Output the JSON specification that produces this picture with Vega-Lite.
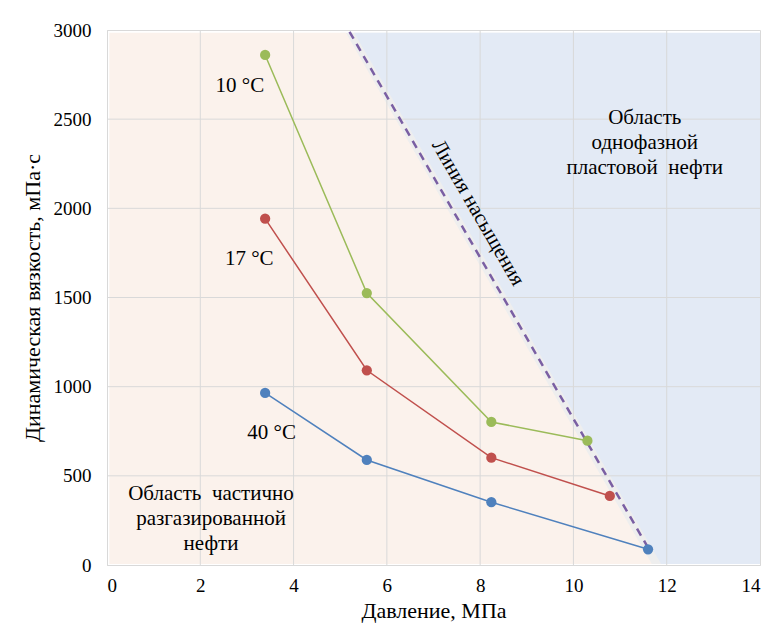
{
  "$schema": "https://vega.github.io/schema/vega-lite/v6.json",
  "width": 653,
  "height": 535,
  "autosize": {"type": "none"},
  "padding": {"left": 107, "top": 30, "right": 23, "bottom": 70},
  "background": "white",
  "config": {
    "font": "Liberation Serif",
    "text": {"font": "Liberation Serif"},
    "view": {"stroke": "#D9D9D9", "strokeWidth": 1},
    "axis": {
      "gridColor": "#D9D9D9",
      "domainColor": "#D9D9D9",
      "ticks": false,
      "labelFont": "Liberation Serif",
      "labelFontSize": 19,
      "labelColor": "#000000",
      "titleFont": "Liberation Serif",
      "titleFontSize": 22,
      "titleFontWeight": "normal",
      "titleColor": "#000000"
    }
  },
  "datasets": {
    "series": [
      {"t": "10 °C", "p": 3.39, "v": 2860},
      {"t": "10 °C", "p": 5.57, "v": 1525},
      {"t": "10 °C", "p": 8.24, "v": 802},
      {"t": "10 °C", "p": 10.3, "v": 697},
      {"t": "17 °C", "p": 3.39, "v": 1942},
      {"t": "17 °C", "p": 5.57, "v": 1092},
      {"t": "17 °C", "p": 8.24, "v": 602},
      {"t": "17 °C", "p": 10.78, "v": 387},
      {"t": "40 °C", "p": 3.39, "v": 965},
      {"t": "40 °C", "p": 5.57, "v": 589},
      {"t": "40 °C", "p": 8.24, "v": 352},
      {"t": "40 °C", "p": 11.6, "v": 88}
    ],
    "pink": [
      {"p": 0.05, "v": 2985},
      {"p": 5.12, "v": 2985},
      {"p": 11.68, "v": 5}
    ],
    "blue": [
      {"p": 5.3, "v": 2985, "v2": 2985},
      {"p": 11.88, "v": 2985, "v2": 5},
      {"p": 14, "v": 2985, "v2": 5}
    ],
    "band": [
      {"p": 5.0, "v": 2985},
      {"p": 12.0, "v": 2985}
    ],
    "gridx": [{"p": 2}, {"p": 4}, {"p": 6}, {"p": 8}, {"p": 10}, {"p": 12}],
    "gridy": [{"v": 500}, {"v": 1000}, {"v": 1500}, {"v": 2000}, {"v": 2500}],
    "sat": [
      {"p": 5.2, "v": 2990},
      {"p": 11.62, "v": 88}
    ],
    "labels": [
      {"p": 2.85, "v": 2686, "txt": "10 °C"},
      {"p": 3.05, "v": 1716, "txt": "17 °C"},
      {"p": 3.53, "v": 740, "txt": "40 °C"}
    ],
    "regions": [
      {"p": 2.23, "v": 458, "txt": "Область \u00a0частично\nразгазированной\nнефти"},
      {"p": 11.53, "v": 2566, "txt": "Область\nоднофазной\nпластовой \u00a0нефти"}
    ],
    "satlabel": [
      {"p": 7.95, "v": 1974, "txt": "Линия насыщения"}
    ]
  },
  "layer": [
    {
      "data": {"name": "band"},
      "mark": {"type": "area", "color": "#EEEEEE"},
      "encoding": {
        "x": {"field": "p", "type": "quantitative", "scale": {"domain": [0, 14]}, "axis": {"values": [0, 2, 4, 6, 8, 10, 12, 14], "format": "d", "title": "Давление, МПа", "labelPadding": 11, "titlePadding": 5, "grid": false}},
        "y": {"field": "v", "type": "quantitative", "scale": {"domain": [0, 3000]}, "axis": {"values": [0, 500, 1000, 1500, 2000, 2500, 3000], "format": "d", "title": "Динамическая вязкость, мПа·с", "labelPadding": 16, "titlePadding": 9, "grid": false}},
        "y2": {"datum": 5}
      }
    },
    {
      "data": {"name": "pink"},
      "mark": {"type": "area", "color": "#FBF2EC"},
      "encoding": {
        "x": {"field": "p", "type": "quantitative"},
        "y": {"field": "v", "type": "quantitative"},
        "y2": {"datum": 5}
      }
    },
    {
      "data": {"name": "blue"},
      "mark": {"type": "area", "color": "#E3EAF5"},
      "encoding": {
        "x": {"field": "p", "type": "quantitative"},
        "y": {"field": "v", "type": "quantitative"},
        "y2": {"field": "v2"}
      }
    },
    {
      "data": {"name": "gridx"},
      "mark": {"type": "rule", "color": "#D9D9D9", "strokeWidth": 1},
      "encoding": {
        "x": {"field": "p", "type": "quantitative"}
      }
    },
    {
      "data": {"name": "gridy"},
      "mark": {"type": "rule", "color": "#D9D9D9", "strokeWidth": 1},
      "encoding": {
        "y": {"field": "v", "type": "quantitative"}
      }
    },
    {
      "data": {"name": "sat"},
      "mark": {"type": "line", "color": "#7A5FA3", "strokeWidth": 2.5, "strokeDash": [8, 6]},
      "encoding": {
        "x": {"field": "p", "type": "quantitative"},
        "y": {"field": "v", "type": "quantitative"}
      }
    },
    {
      "data": {"name": "series"},
      "mark": {"type": "line", "strokeWidth": 1.5},
      "encoding": {
        "x": {"field": "p", "type": "quantitative"},
        "y": {"field": "v", "type": "quantitative"},
        "color": {"field": "t", "type": "nominal", "scale": {"domain": ["10 °C", "17 °C", "40 °C"], "range": ["#9BBB59", "#C0504D", "#4F81BD"]}, "legend": null}
      }
    },
    {
      "data": {"name": "series"},
      "mark": {"type": "point", "filled": true, "opacity": 1, "size": 105},
      "encoding": {
        "x": {"field": "p", "type": "quantitative"},
        "y": {"field": "v", "type": "quantitative"},
        "color": {"field": "t", "type": "nominal", "legend": null}
      }
    },
    {
      "data": {"name": "labels"},
      "mark": {"type": "text", "fontSize": 21, "color": "#000000", "align": "center", "baseline": "middle"},
      "encoding": {
        "x": {"field": "p", "type": "quantitative"},
        "y": {"field": "v", "type": "quantitative"},
        "text": {"field": "txt"}
      }
    },
    {
      "data": {"name": "regions"},
      "mark": {"type": "text", "fontSize": 21, "color": "#000000", "align": "center", "baseline": "top", "lineBreak": "\n", "lineHeight": 25},
      "encoding": {
        "x": {"field": "p", "type": "quantitative"},
        "y": {"field": "v", "type": "quantitative"},
        "text": {"field": "txt"}
      }
    },
    {
      "data": {"name": "satlabel"},
      "mark": {"type": "text", "fontSize": 21, "color": "#000000", "align": "center", "baseline": "middle", "angle": 60},
      "encoding": {
        "x": {"field": "p", "type": "quantitative"},
        "y": {"field": "v", "type": "quantitative"},
        "text": {"field": "txt"}
      }
    }
  ]
}
